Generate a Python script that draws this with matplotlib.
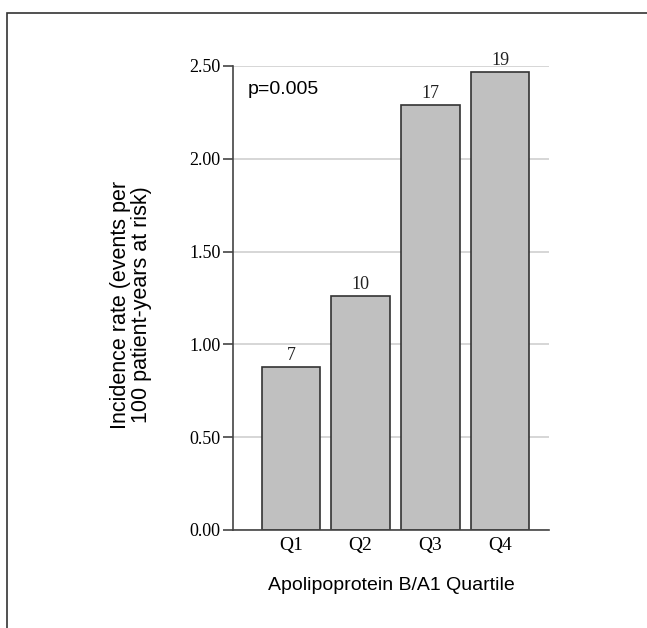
import matplotlib.pyplot as plt
from matplotlib.patches import Rectangle

quartiles = ["Q1", "Q2", "Q3", "Q4"]
incidence = [0.88, 1.26, 2.29, 2.47]
events = [7, 10, 17, 19]
yticks = [0.0, 0.5, 1.0, 1.5, 2.0, 2.5]

fig = plt.figure(figsize=(6.47, 6.28), dpi=100)
ax = fig.add_axes([233 / 647, 1 - 530 / 628, 316 / 647, 464 / 628])

x = range(len(quartiles))
ax.bar(x, incidence, width=0.84, color="#c0c0c0", edgecolor="#333333", linewidth=1.2, zorder=3)
# number of events above each bar
for xi, v, n in zip(x, incidence, events):
    ax.text(xi, v + 0.015, str(n), ha="center", va="bottom", fontsize=13,
            family="Liberation Serif", color="#222222", clip_on=False)

ax.set_xlim(-0.83, 3.70)
ax.set_ylim(0, 2.5)
ax.set_yticks(yticks)
ax.set_yticklabels([f"{t:.2f}" for t in yticks], family="Liberation Serif", fontsize=13)
ax.set_xticks(list(x))
ax.set_xticklabels(quartiles, family="Liberation Serif", fontsize=14)
ax.tick_params(axis="x", length=0, pad=5)
ax.tick_params(axis="y", length=7, width=1.2, color="#444444", pad=2)
ax.yaxis.grid(True, color="#d0d0d0", linewidth=1.2, zorder=0)
ax.set_axisbelow(True)
for s in ["top", "right"]:
    ax.spines[s].set_visible(False)
for s in ["left", "bottom"]:
    ax.spines[s].set_color("#444444")
    ax.spines[s].set_linewidth(1.2)
ax.spines["bottom"].set_zorder(4)

ax.text(0.047, 0.95, "p=0.005", transform=ax.transAxes, ha="left", va="center",
        fontsize=14, family="Liberation Sans")

fig.text(131 / 647, 1 - 305 / 628, "Incidence rate (events per\n100 patient-years at risk)",
         rotation=90, ha="center", va="center", fontsize=15.5, family="Liberation Sans",
         multialignment="center", linespacing=1.05)
fig.text(391 / 647, 1 - 585 / 628, "Apolipoprotein B/A1 Quartile", ha="center", va="center",
         fontsize=14, family="Liberation Sans")

fig.patches.append(Rectangle((7 / 647, -0.1), 1.2, 1 - 13 / 628 + 0.1, transform=fig.transFigure,
                             fill=False, edgecolor="#333333", linewidth=1.2))

fig.savefig("out.png", dpi=100)
